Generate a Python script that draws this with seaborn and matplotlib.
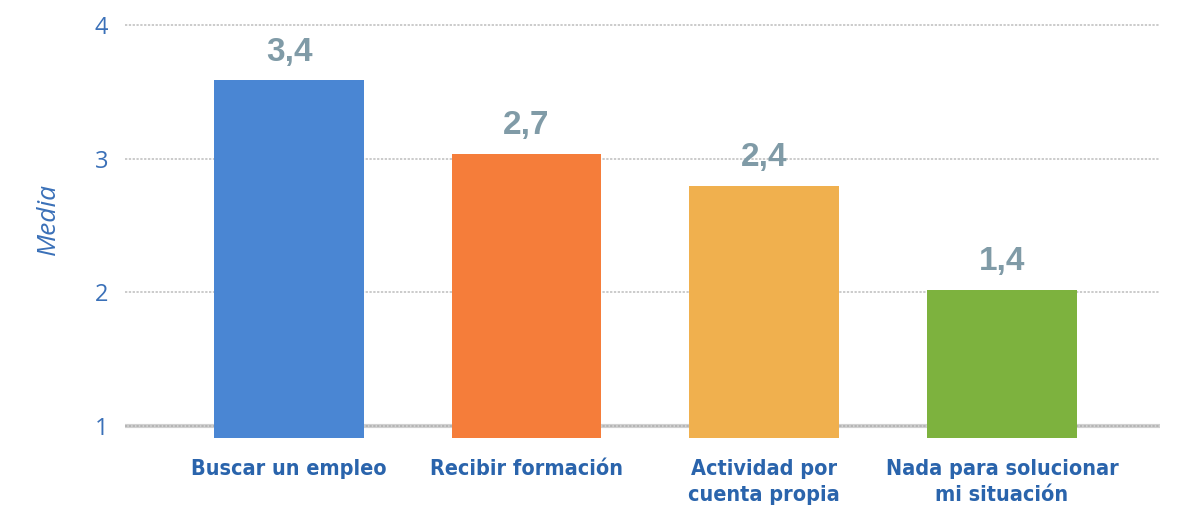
import matplotlib
matplotlib.use("Agg")
import matplotlib.pyplot as plt
import seaborn as sns
import pandas as pd

# data
categories = ["Buscar un empleo", "Recibir formación", "Actividad por\ncuenta propia",
              "Nada para solucionar\nmi situación"]
bar_heights = [3.59, 3.04, 2.80, 2.02]
value_labels = ["3,4", "2,7", "2,4", "1,4"]
bar_colors = ["#4A86D3", "#F57D3A", "#F0B04E", "#7DB23E"]
y_ticks = [1, 2, 3, 4]

sns.set_theme(style="white")
plt.rcParams["font.family"] = ["DejaVu Sans"]

df = pd.DataFrame({"cat": categories, "media": bar_heights})

fig = plt.figure(figsize=(12.02, 5.07), dpi=100)
ax = fig.add_axes([0.104, 0.136, 0.861, 0.864])

sns.barplot(data=df, x="cat", y="media", hue="cat", palette=bar_colors,
            legend=False, width=0.63, ax=ax, zorder=3, saturation=1)
for patch in ax.patches:
    patch.set_edgecolor("none")

ax.set_xlim(-0.69, 3.665)
ax.set_ylim(0.91, 4.19)
ax.set_yticks(y_ticks)
ax.set_yticklabels([str(t) for t in y_ticks], fontsize=17, color="#3A70B8",
                   family=["Open Sans", "DejaVu Sans"])
ax.yaxis.grid(True, color="#BDBDBD", linestyle=(0, (1.5, 1)), linewidth=1.1, zorder=0)
ax.axhline(1, color="#9A9A9A", linewidth=3, alpha=0.45, zorder=1)

ax.tick_params(axis="both", length=0)
ax.tick_params(axis="x", pad=15)
ax.tick_params(axis="y", pad=12)
for lbl in ax.get_xticklabels():
    lbl.set_fontsize(15.5)
    lbl.set_fontweight("bold")
    lbl.set_fontstretch("condensed")
    lbl.set_color("#2A64AC")
    lbl.set_linespacing(1.4)

ax.set_xlabel("")
ax.set_ylabel("Media", fontsize=19, color="#3A70B8", style="italic",
              family=["Open Sans", "DejaVu Sans"], labelpad=24)

for container in ax.containers:
    idx = int(round(container.patches[0].get_x() + container.patches[0].get_width() / 2))
    ax.bar_label(container, labels=[value_labels[idx]], padding=9, fontsize=24,
                 fontweight="bold", color="#809BA7", family=["Liberation Sans", "DejaVu Sans"])

sns.despine(ax=ax, left=True, bottom=True)

fig.savefig("out.png", dpi=100)
